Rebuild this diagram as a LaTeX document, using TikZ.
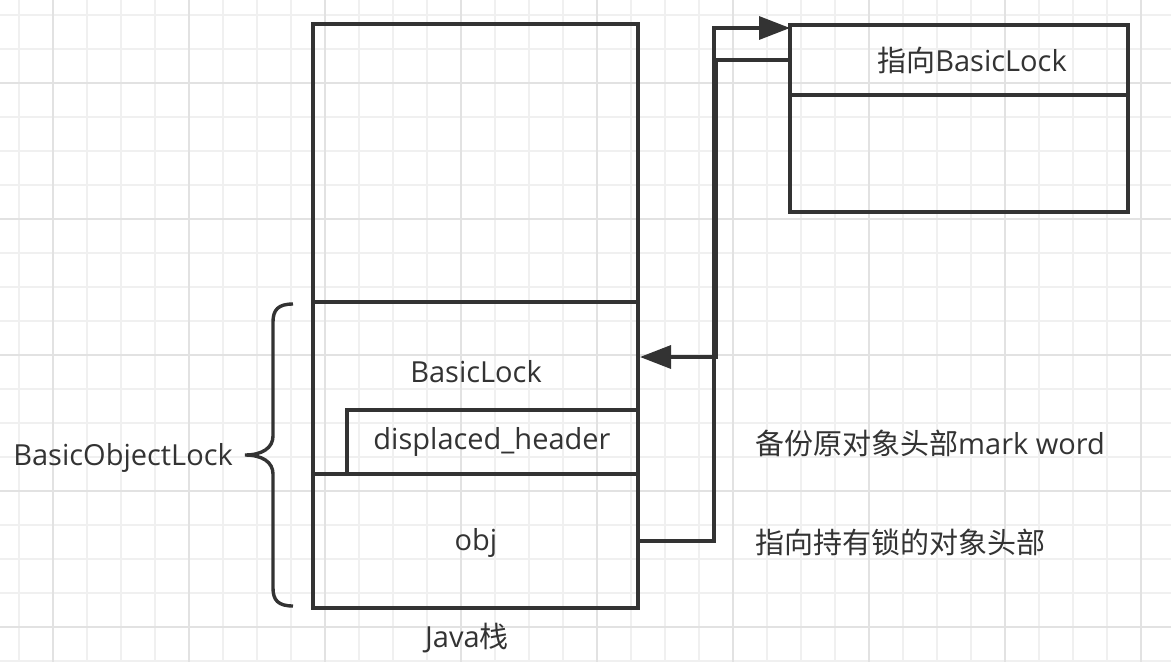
\documentclass[tikz,border=0pt]{standalone}
\usepackage{fontspec}
\setmainfont{Open Sans}
\newfontfamily\cjk{Noto Sans CJK SC}
\usetikzlibrary{arrows.meta}
\definecolor{ink}{HTML}{333333}
\definecolor{gridminor}{HTML}{F0F0F0}
\definecolor{gridmajor}{HTML}{E2E2E2}

\begin{document}
\begin{tikzpicture}[x=1pt, y=-1pt,
	cell/.style={draw=ink, line width=3.6pt, inner sep=0pt, outer sep=0pt},
	txt/.style={text=ink, inner sep=0pt, font=\fontsize{29}{35}\selectfont},
	link/.style={draw=ink, line width=3.4pt},
	tip/.style={-{Triangle[length=31pt,width=23pt]}}]
	\useasboundingbox (0,0) rectangle (1171,662);
	\fill[white] (0,0) rectangle (1171,662);
	% grid paper
	\foreach \gx in {0,...,34}
		\draw[gridminor, line width=1.6pt] ({19+34*\gx},0) -- ({19+34*\gx},662);
	\foreach \gy in {0,...,19}
		\draw[gridminor, line width=1.6pt] (0,{15+34*\gy}) -- (1171,{15+34*\gy});
	\foreach \gx in {0,...,8}
		\draw[gridmajor, line width=1.6pt] ({53+136*\gx},0) -- ({53+136*\gx},662);
	\foreach \gy in {0,...,4}
		\draw[gridmajor, line width=1.6pt] (0,{83+136*\gy}) -- (1171,{83+136*\gy});
	% java stack
	\node[cell, minimum width=325pt, minimum height=278pt] (frame) at (475.5,163) {};
	\node[cell, minimum width=325pt, minimum height=172pt] (lockcell) at (475.5,388) {};
	\node[cell, minimum width=325pt, minimum height=134pt] (objcell) at (475.5,541) {};
	\node[cell, minimum width=291pt, minimum height=64pt] (hdrcell) at (492.5,442) {};
	\node[txt] (locktxt) at (476,372) {BasicLock};
	\node[txt] (hdrtxt) at (492,442) {displaced\_header};
	\node[txt] (objtxt) at (476,543) {obj};
	\node[txt] (stacktxt) at (467,638) {Java{\cjk 栈}};
	% object header
	\node[cell, minimum width=338pt, minimum height=70pt] (ptrcell) at (959,60) {};
	\node[cell, minimum width=338pt, minimum height=117pt] (ptrbody) at (959,153.5) {};
	\node[txt] (ptrtxt) at (972,60) {{\cjk 指向}BasicLock};
	% brace
	\draw[ink, line width=3.4pt] (293,304) .. controls (278,304) and (273,310) .. (273,322)
		-- (273,436) .. controls (273,448) and (262,455) .. (245,455)
		.. controls (262,455) and (273,462) .. (273,474)
		-- (273,588) .. controls (273,600) and (278,606) .. (293,606);
	\node[txt, anchor=east] (boltxt) at (233,458) {BasicObjectLock};
	% notes
	\node[txt, anchor=west] (hdrnote) at (755,443) {{\cjk 备份原对象头部}mark word};
	\node[txt, anchor=west] (objnote) at (755,542) {{\cjk 指向持有锁的对象头部}};
	% pointers
	\coordinate (ptrin) at (790,28);
	\coordinate (lockin) at (640,357);
	\draw[link, tip] (objcell.east) -| (714,28) -- (ptrin);
	\draw[link, tip] (ptrcell.west) -| (716,357) -- (lockin);
\end{tikzpicture}
\end{document}
